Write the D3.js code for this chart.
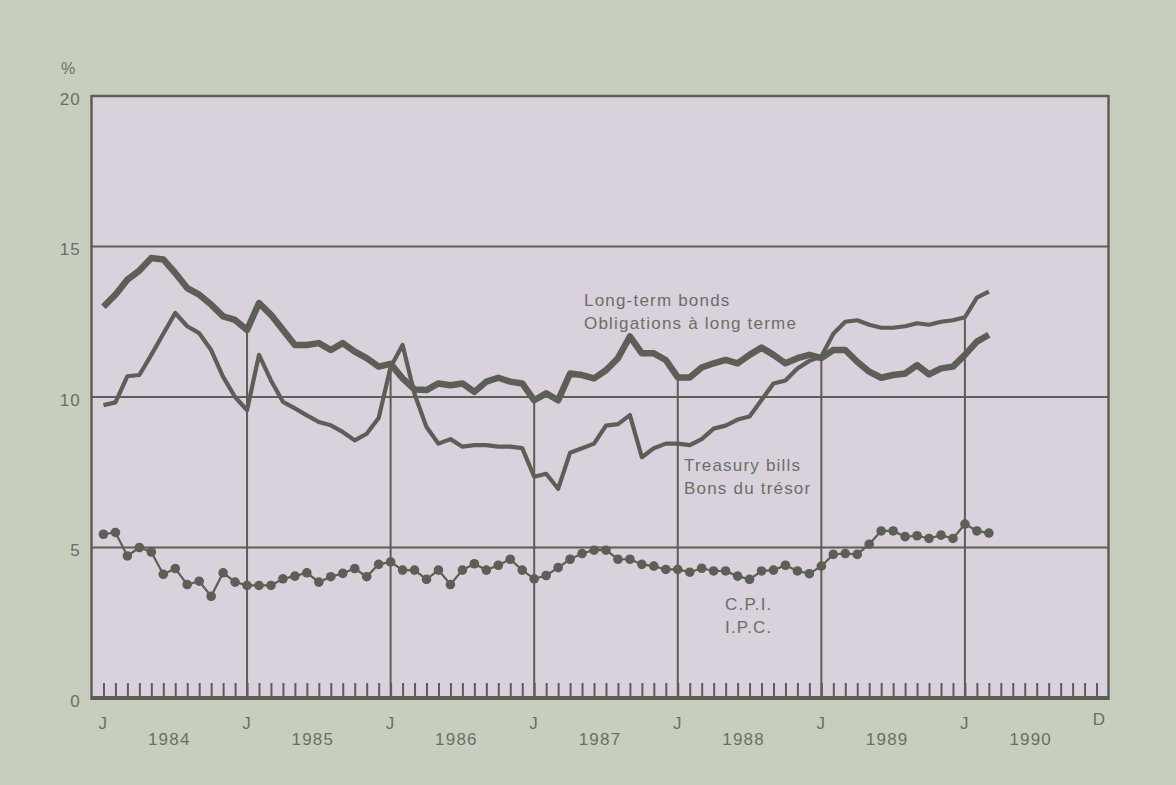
<!DOCTYPE html>
<html>
<head>
<meta charset="utf-8">
<script src="https://cdn.jsdelivr.net/npm/d3@7"></script>
<style>
  html, body { margin: 0; padding: 0; background: #c7cebe; }
  svg { display: block; }
  text { font-family: "Liberation Sans", Arial, sans-serif; fill: #6c6e65; letter-spacing: 1.2px; }
</style>
</head>
<body>
<svg id="chart"></svg>
<script>
// months from Jan 1984 (index 0) to Mar 1990 (index 74)
var bonds = [
  13.0, 13.4, 13.9, 14.2, 14.62, 14.57, 14.12, 13.62, 13.4, 13.07, 12.68, 12.56,
  12.23, 13.12, 12.73, 12.23, 11.73, 11.73, 11.79, 11.56, 11.79, 11.51, 11.29, 11.01,
  11.1, 10.62, 10.25, 10.23, 10.45, 10.39, 10.45, 10.17, 10.51, 10.64, 10.51, 10.45,
  9.89, 10.12, 9.89, 10.78, 10.73, 10.62, 10.89, 11.29, 12.01, 11.45, 11.45, 11.23,
  10.65, 10.65, 10.98, 11.12, 11.23, 11.12, 11.40, 11.64, 11.40, 11.12, 11.29, 11.40,
  11.29, 11.56, 11.56, 11.17, 10.84, 10.64, 10.73, 10.78, 11.06, 10.75, 10.95, 11.01,
  11.40, 11.84, 12.07
];
var tbills = [
  9.73, 9.82, 10.69, 10.73, 11.4, 12.1, 12.79, 12.35, 12.12, 11.56, 10.67, 10.0,
  9.56, 11.40, 10.55, 9.84, 9.62, 9.39, 9.17, 9.06, 8.84, 8.56, 8.78, 9.3,
  11.0, 11.73, 10.1, 9.0, 8.45, 8.6, 8.35, 8.4, 8.4, 8.35, 8.35, 8.3,
  7.35, 7.45, 6.95, 8.15, 8.3, 8.45, 9.05, 9.1, 9.4, 8.0, 8.3, 8.45,
  8.45, 8.4, 8.6, 8.95, 9.05, 9.25, 9.35, 9.9, 10.45, 10.55, 10.95, 11.2,
  11.35, 12.1, 12.5, 12.55, 12.4, 12.3, 12.3, 12.35, 12.45, 12.4, 12.5, 12.55,
  12.65, 13.3, 13.5
];
var cpi = [
  5.44, 5.50, 4.72, 5.0, 4.85, 4.11, 4.30, 3.77, 3.88, 3.38, 4.16, 3.85,
  3.74, 3.74, 3.74, 3.96, 4.05, 4.16, 3.85, 4.03, 4.14, 4.30, 4.03, 4.44,
  4.52, 4.25, 4.25, 3.94, 4.25, 3.77, 4.25, 4.46, 4.25, 4.41, 4.61, 4.25,
  3.96, 4.07, 4.33, 4.61, 4.80, 4.91, 4.91, 4.61, 4.61, 4.44, 4.38, 4.27,
  4.27, 4.18, 4.31, 4.22, 4.22, 4.05, 3.94, 4.22, 4.25, 4.41, 4.22, 4.13,
  4.38, 4.77, 4.80, 4.77, 5.11, 5.55, 5.55, 5.36, 5.39, 5.30, 5.41, 5.30,
  5.78, 5.55, 5.48
];
var years = ["1984", "1985", "1986", "1987", "1988", "1989", "1990"];
var yTicks = [0, 5, 10, 15, 20];

var width = 1176, height = 785;
var ink = "#5d5e55";

var svg = d3.select("#chart").attr("width", width).attr("height", height);

var x = d3.scaleLinear().domain([-1, 84]).range([91.5, 1108.5]);
var y = d3.scaleLinear().domain([0, 20]).range([698, 96]);

// plot background
svg.append("rect")
    .attr("x", x(-1))
    .attr("y", y(20))
    .attr("width", x(84) - x(-1))
    .attr("height", y(0) - y(20))
    .attr("fill", "#d9d1dc");

// horizontal grid lines
svg.selectAll("line.grid")
    .data(yTicks.filter(function(d){ return d > 0 && d < 20; }))
  .enter().append("line")
    .attr("class", "grid")
    .attr("x1", x(-1)).attr("x2", x(84))
    .attr("y1", function(d){ return y(d); })
    .attr("y2", function(d){ return y(d); })
    .attr("stroke", ink)
    .attr("stroke-width", 2);

// January vertical lines, up to the highest series at that month
var janIdx = [12, 24, 36, 48, 60, 72];
svg.selectAll("line.jan")
    .data(janIdx)
  .enter().append("line")
    .attr("class", "jan")
    .attr("x1", function(d){ return x(d); })
    .attr("x2", function(d){ return x(d); })
    .attr("y1", y(0))
    .attr("y2", function(d){ return y(Math.max(bonds[d], tbills[d])); })
    .attr("stroke", ink)
    .attr("stroke-width", 2);

// monthly ticks along the bottom
var xAxis = d3.axisBottom(x)
    .tickValues(d3.range(0, 84))
    .tickSizeInner(-15)
    .tickSizeOuter(0)
    .tickFormat("");
var gx = svg.append("g")
    .attr("transform", "translate(0," + y(0) + ")")
    .call(xAxis);
gx.select(".domain").remove();
gx.selectAll(".tick line").attr("stroke", ink).attr("stroke-width", 2);

// frame
svg.append("line").attr("x1", x(-1)).attr("x2", x(84)).attr("y1", y(20)).attr("y2", y(20))
    .attr("stroke", ink).attr("stroke-width", 2.5);
svg.append("line").attr("x1", x(-1)).attr("x2", x(-1)).attr("y1", y(20) - 1).attr("y2", y(0) + 2)
    .attr("stroke", ink).attr("stroke-width", 2.5);
svg.append("line").attr("x1", x(84)).attr("x2", x(84)).attr("y1", y(20) - 1).attr("y2", y(0) + 2)
    .attr("stroke", ink).attr("stroke-width", 2.5);
svg.append("line").attr("x1", x(-1)).attr("x2", x(84)).attr("y1", y(0)).attr("y2", y(0))
    .attr("stroke", ink).attr("stroke-width", 4);

// y axis labels
var yAxis = d3.axisLeft(y).tickValues(yTicks).tickSize(0).tickPadding(0);
var gy = svg.append("g")
    .attr("transform", "translate(81,3)")
    .call(yAxis);
gy.select(".domain").remove();
gy.selectAll(".tick text")
    .attr("font-size", 17)
    .attr("fill", "#6c6e65")
    .style("font-family", "Liberation Sans, Arial, sans-serif");

svg.append("text")
    .attr("x", 61).attr("y", 74)
    .attr("font-size", 16)
    .text("%");

// month / year labels
svg.selectAll("text.jlab")
    .data(d3.range(0, 84, 12))
  .enter().append("text")
    .attr("class", "jlab")
    .attr("x", function(d){ return x(d); })
    .attr("y", 729)
    .attr("text-anchor", "middle")
    .attr("font-size", 17)
    .text("J");
svg.append("text")
    .attr("x", x(83) + 3).attr("y", 725)
    .attr("text-anchor", "middle")
    .attr("font-size", 17)
    .text("D");
svg.selectAll("text.ylab")
    .data(years)
  .enter().append("text")
    .attr("class", "ylab")
    .attr("x", function(d, i){ return x(i * 12 + 5.5); })
    .attr("y", 745)
    .attr("text-anchor", "middle")
    .attr("font-size", 17)
    .text(function(d){ return d; });

// series
var line = d3.line()
    .x(function(d, i){ return x(i); })
    .y(function(d){ return y(d); });

svg.append("path")
    .datum(tbills)
    .attr("d", line)
    .attr("fill", "none")
    .attr("stroke", ink)
    .attr("stroke-width", 4.2)
    .attr("stroke-linejoin", "round");

svg.append("path")
    .datum(bonds)
    .attr("d", line)
    .attr("fill", "none")
    .attr("stroke", ink)
    .attr("stroke-width", 6.5)
    .attr("stroke-linejoin", "round");

svg.append("path")
    .datum(cpi)
    .attr("d", line)
    .attr("fill", "none")
    .attr("stroke", ink)
    .attr("stroke-width", 2.2);
svg.selectAll("circle.cpi")
    .data(cpi)
  .enter().append("circle")
    .attr("class", "cpi")
    .attr("cx", function(d, i){ return x(i); })
    .attr("cy", function(d){ return y(d); })
    .attr("r", 4.8)
    .attr("fill", ink);

// series labels
function label(lines, lx, ly) {
  var t = svg.append("text").attr("x", lx).attr("y", ly).attr("font-size", 17);
  lines.forEach(function(s, i){
    t.append("tspan").attr("x", lx).attr("dy", i === 0 ? 0 : 23).text(s);
  });
}
label(["Long-term bonds", "Obligations à long terme"], 584, 306);
label(["Treasury bills", "Bons du trésor"], 684, 471);
label(["C.P.I.", "I.P.C."], 725, 610);
</script>
</body>
</html>
